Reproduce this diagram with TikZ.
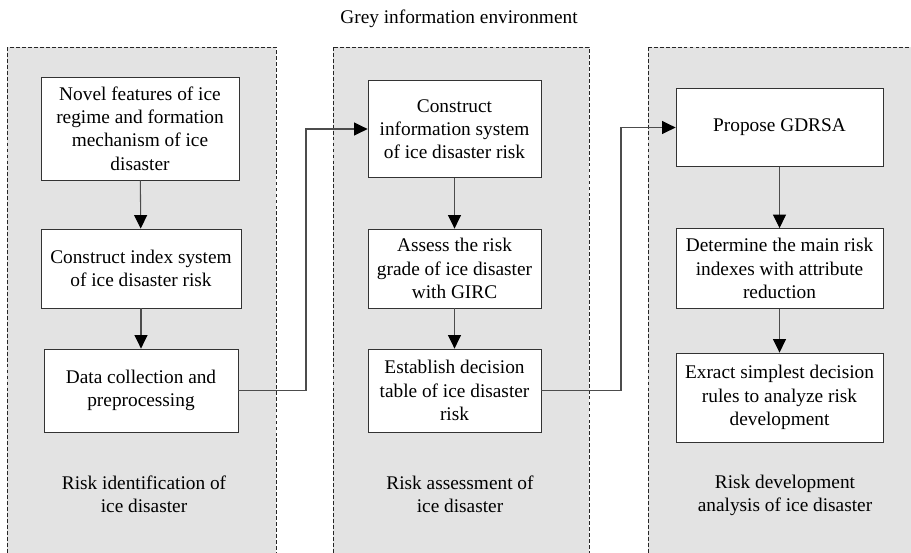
\documentclass[tikz,border=0pt]{standalone}
\usepackage{fontspec}
\setmainfont{Liberation Serif}
\usetikzlibrary{arrows.meta}

\begin{document}
\begin{tikzpicture}[x=0.02cm, y=-0.02cm,
  box node/.style={draw=black!80, fill=white, line width=0.5pt, align=center, inner sep=2pt, font=\fontsize{11}{13.2}\selectfont},
  area/.style={fill=black!11, draw=black!85, line width=0.5pt, dash pattern=on 2.2pt off 1.2pt},
  flow/.style={draw=black!70, line width=0.6pt, -{Triangle[length=0.27cm, width=0.26cm, color=black]}},
  caption node/.style={align=center, font=\fontsize{11}{13.2}\selectfont}]
\useasboundingbox (0,0) rectangle (911,552);
\clip (0,0) rectangle (911,552);
% panels
\draw[area] (7,47) rectangle (276,600);
\draw[area] (333,47) rectangle (589,600);
\draw[area] (648,47) rectangle (960,600);
\node[caption node] (title) at (459,19) {Grey information environment};
% identification
\node[box node, minimum width=3.96cm, minimum height=2.06cm] (b1) at (140,128.5) {Novel features of ice\\regime and formation\\mechanism of ice\\disaster};
\node[box node, minimum width=4.0cm, minimum height=1.58cm] (b2) at (141,268.5) {Construct index system\\of ice disaster risk};
\node[box node, minimum width=3.88cm, minimum height=1.66cm] (b3) at (141,390.5) {Data collection and\\preprocessing};
\node[caption node] (cap1) at (144,494) {Risk identification of\\ice disaster};
% assessment
\node[box node, minimum width=3.46cm, minimum height=1.94cm] (c1) at (454.5,129) {Construct\\information system\\of ice disaster risk};
\node[box node, minimum width=3.46cm, minimum height=1.58cm] (c2) at (454.5,268.5) {Assess the risk\\grade of ice disaster\\with GIRC};
\node[box node, minimum width=3.46cm, minimum height=1.66cm] (c3) at (454.5,390.5) {Establish decision\\table of ice disaster\\risk};
\node[caption node] (cap2) at (460,494) {Risk assessment of\\ice disaster};
% development
\node[box node, minimum width=4.14cm, minimum height=1.56cm] (d1) at (779.5,127.5) {Propose GDRSA};
\node[box node, minimum width=4.14cm, minimum height=1.6cm] (d2) at (779.5,268.5) {Determine the main risk\\indexes with attribute\\reduction};
\node[box node, minimum width=4.14cm, minimum height=1.78cm] (d3) at (779.5,397.5) {Exract simplest decision\\rules to analyze risk\\development};
\node[caption node] (cap3) at (785,495) {Risk development\\analysis of ice disaster};
% connectors
\coordinate (j1) at (306,390);
\coordinate (j2) at (621,390);
\draw[flow] (b1) -- (b2);
\draw[flow] (b2) -- (b3);
\draw[flow] (b3.east) -- (b3.east -| j1) |- (c1.west);
\draw[flow] (c1) -- (c2);
\draw[flow] (c2) -- (c3);
\draw[flow] (c3.east) -- (c3.east -| j2) |- (d1.west);
\draw[flow] (d1) -- (d2);
\draw[flow] (d2) -- (d3);
\end{tikzpicture}
\end{document}
